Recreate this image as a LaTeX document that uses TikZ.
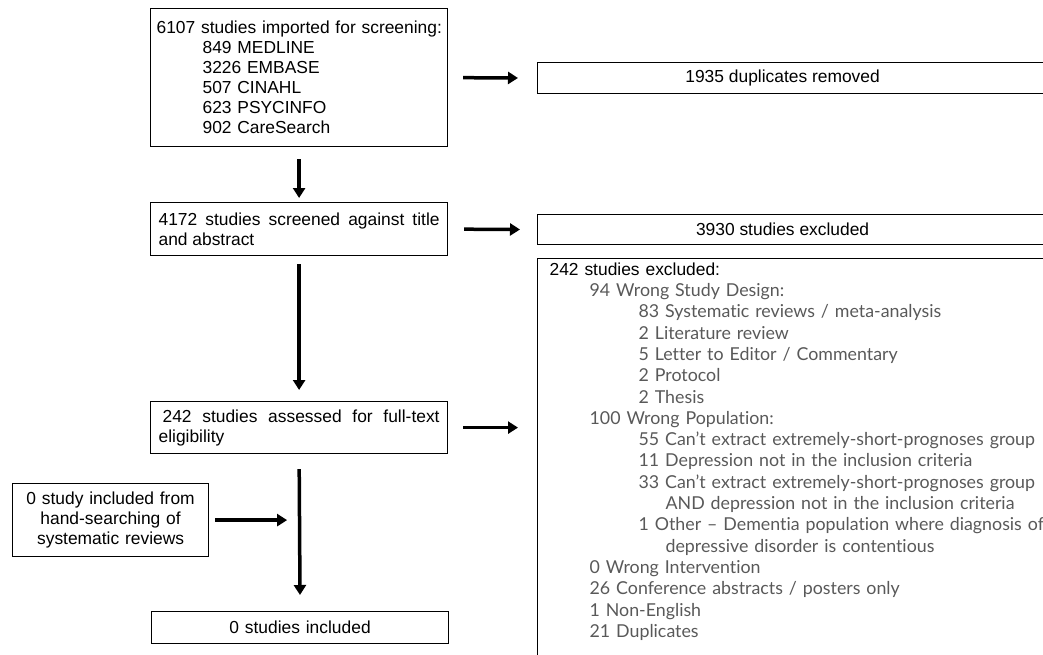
\documentclass[tikz,border=0pt]{standalone}
\usepackage{fontspec}
\setmainfont{Liberation Sans}
\newfontfamily\reasonfont[Ligatures=NoCommon]{Lato}
\usetikzlibrary{arrows.meta, calc}

\begin{document}
\begin{tikzpicture}[x=1pt, y=-1pt]
    % --- Styles ---
    \tikzstyle{flowbox}=[draw=black, line width=1.2pt, anchor=north west, inner xsep=8pt, inner ysep=0pt, font=\fontsize{17.4}{20}\selectfont]
    \tikzstyle{sidebox}=[flowbox, inner xsep=0pt, minimum height=31pt]
    \tikzstyle{flowarrow}=[line width=3.5pt, -{Triangle[width=12pt, length=10pt]}]
    \tikzstyle{reason_text}=[font=\reasonfont\fontsize{17.8}{21.3}\selectfont, text=black!65]

    % --- 0. Canvas ---
    \useasboundingbox (0,0) rectangle (1043,654);
    \clip (0,0) rectangle (1043,654);

    % --- 1. Main column ---
    \node[flowbox, inner xsep=6pt, text width=285pt, align=left, minimum height=138pt] (imported) at (150,8) {%
        \mbox{6107 studies imported for screening:}\\
        \hspace*{46pt}849 MEDLINE\\
        \hspace*{46pt}3226 EMBASE\\
        \hspace*{46pt}507 CINAHL\\
        \hspace*{46pt}623 PSYCINFO\\
        \hspace*{46pt}902 CareSearch};
    \node[flowbox, text width=281pt, align=justify, minimum height=53pt] (screened) at (150,202) {%
        4172 studies screened against title\linebreak and abstract};
    \node[flowbox, text width=281pt, align=justify, minimum height=52pt] (assessed) at (150,401) {%
        \hspace*{4pt}242 studies assessed for full-text\linebreak eligibility};
    \node[flowbox, text width=281pt, align=center, minimum height=32pt] (included) at (151,611) {0 studies included};

    % Hand-searching box on the left
    \node[flowbox, text width=180pt, align=center, minimum height=73pt] (handsearch) at (12,483) {%
        0 study included from\\ hand-searching of\\ systematic reviews};

    % --- 2. Excluded column (runs off the page) ---
    \node[sidebox] (duplicates) at (537,62) {\makebox[490pt]{1935 duplicates removed}\hspace*{30pt}};
    \node[sidebox, minimum height=30pt] (titleexcl) at (537,214) {\makebox[490pt]{3930 studies excluded}\hspace*{30pt}};

    \node[flowbox, reason_text, inner xsep=12pt, inner ysep=4pt, text width=520pt, align=left] (fullexcl) at (537,258) {%
        {\color{black}\rmfamily\fontsize{17.4}{21.3}\selectfont 242 studies excluded:}\\
        \hspace*{40pt}94 Wrong Study Design:\\
        \hspace*{89pt}83 Systematic reviews / meta-analysis\\
        \hspace*{89pt}2 Literature review\\
        \hspace*{89pt}5 Letter to Editor / Commentary\\
        \hspace*{89pt}2 Protocol\\
        \hspace*{89pt}2 Thesis\\
        \hspace*{40pt}100 Wrong Population:\\
        \hspace*{89pt}55 Can’t extract extremely-short-prognoses group\\
        \hspace*{89pt}11 Depression not in the inclusion criteria\\
        \hspace*{89pt}33 Can’t extract extremely-short-prognoses group\\
        \hspace*{116pt}AND depression not in the inclusion criteria\\
        \hspace*{89pt}1 Other – Dementia population where diagnosis of\\
        \hspace*{116pt}depressive disorder is contentious\\
        \hspace*{40pt}0 Wrong Intervention\\
        \hspace*{40pt}26 Conference abstracts / posters only\\
        \hspace*{40pt}1 Non-English\\
        \hspace*{40pt}21 Duplicates\\
        \hspace*{40pt}\\
        \hspace*{40pt}};

    % --- 3. Arrows ---
    \coordinate (joinpoint) at (handsearch.east -| assessed.south);

    \draw[flowarrow, shorten <=12pt, shorten >=4pt] (imported.south) -- (screened.north);
    \draw[flowarrow, shorten <=8pt, shorten >=11pt] (screened.south) -- (assessed.north);
    \draw[flowarrow, shorten <=15pt, shorten >=16pt] (assessed.south) -- (included.north);

    \draw[flowarrow, shorten <=15pt, shorten >=19pt] (imported.east) -- (duplicates.west);
    \draw[flowarrow, shorten <=16pt, shorten >=17pt] (screened.east) -- (titleexcl.west);
    \draw[flowarrow, shorten <=15pt, shorten >=19pt] (assessed.east) -- (assessed.east -| fullexcl.west);
    \draw[flowarrow, shorten <=6pt, shorten >=12pt] (handsearch.east) -- (joinpoint);
\end{tikzpicture}
\end{document}
